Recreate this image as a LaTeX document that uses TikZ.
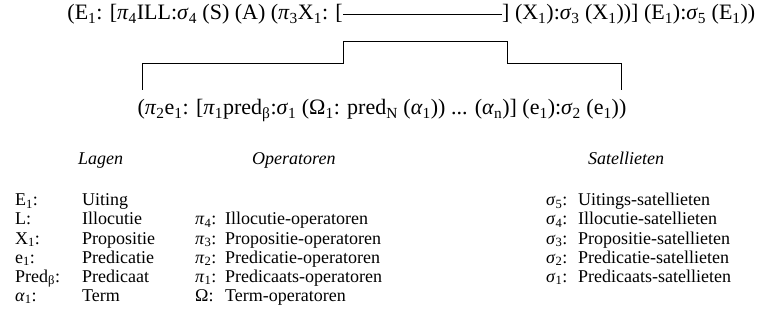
\documentclass[tikz,border=0pt]{standalone}
\usepackage{fontspec}
\setmainfont{Liberation Serif}
\usetikzlibrary{positioning}
\newcommand{\ix}[1]{\textsubscript{#1}}
\newcommand{\gr}[1]{\textit{#1}}
\tikzstyle{formula} = [inner sep=0pt, 
font=\fontsize{22}{22}\selectfont]
\tikzstyle{legend} = [anchor=base west, 
inner sep=0pt, 
font=\fontsize{18}{18}\selectfont]
\tikzstyle{head} = [legend, 
font=\fontsize{18}{18}\selectfont\itshape]
\tikzstyle{link} = [line width=0.8pt]

\begin{document}
\begin{tikzpicture}[x=1pt, y=-1pt]
\useasboundingbox (0,0) rectangle (763,331);

% upper formula with the open slot
\node (topL) [formula, anchor=base east] at (343,20) {(E\ix{1}: [\gr{π}\ix{4}ILL:\gr{σ}\ix{4} (S) (A) (\gr{π}\ix{3}X\ix{1}: [};
\node (topR) [formula, anchor=base west] at (502,20) {] (X\ix{1}):\gr{σ}\ix{3} (X\ix{1}))] (E\ix{1}):\gr{σ}\ix{5} (E\ix{1}))};
\draw [link] (topL.east) -- (topR.west);

% lower formula
\node (bot) [formula, anchor=base] at (382,115) {(\gr{π}\ix{2}e\ix{1}: [\gr{π}\ix{1}pred\ix{β}:\gr{σ}\ix{1} (Ω\ix{1}: pred\ix{N} (\gr{α}\ix{1})) ... (\gr{α}\ix{n})] (e\ix{1}):\gr{σ}\ix{2} (e\ix{1}))};

% bracket linking both
\coordinate (legL) at (142,90);
\coordinate (legR) at (621,90);
\coordinate (stepL) at (343,63);
\coordinate (stepR) at (507,63);
\coordinate (peakL) at (343,41);
\coordinate (peakR) at (507,41);
\draw [link] (legL) |- (stepL) -- (peakL) -- (peakR) -- (stepR) -| (legR);

% legend
\node (hLag) [head] at (78,165) {Lagen};
\node (hOp) [head] at (252,165) {Operatoren};
\node (hSat) [head] at (588,165) {Satellieten};

\node (kE) [legend] at (15,206) {E\ix{1}:};
\node (vE) [legend] at (82,206) {Uiting};
\node (kL) [legend] at (15,225) {L:};
\node (vL) [legend] at (82,225) {Illocutie};
\node (kX) [legend] at (15,244) {X\ix{1}:};
\node (vX) [legend] at (82,244) {Propositie};
\node (ke) [legend] at (15,263) {e\ix{1}:};
\node (ve) [legend] at (82,263) {Predicatie};
\node (kP) [legend] at (15,282) {Pred\ix{β}:};
\node (vP) [legend] at (82,282) {Predicaat};
\node (ka) [legend] at (15,301) {\gr{α}\ix{1}:};
\node (va) [legend] at (82,301) {Term};

\node (kpi4) [legend] at (195,225) {\gr{π}\ix{4}:};
\node (vpi4) [legend] at (225,225) {Illocutie-operatoren};
\node (kpi3) [legend] at (195,244) {\gr{π}\ix{3}:};
\node (vpi3) [legend] at (225,244) {Propositie-operatoren};
\node (kpi2) [legend] at (195,263) {\gr{π}\ix{2}:};
\node (vpi2) [legend] at (225,263) {Predicatie-operatoren};
\node (kpi1) [legend] at (195,282) {\gr{π}\ix{1}:};
\node (vpi1) [legend] at (225,282) {Predicaats-operatoren};
\node (kom) [legend] at (195,301) {Ω:};
\node (vom) [legend] at (225,301) {Term-operatoren};

\node (ks5) [legend] at (546,206) {\gr{σ}\ix{5}:};
\node (vs5) [legend] at (578,206) {Uitings-satellieten};
\node (ks4) [legend] at (546,225) {\gr{σ}\ix{4}:};
\node (vs4) [legend] at (578,225) {Illocutie-satellieten};
\node (ks3) [legend] at (546,244) {\gr{σ}\ix{3}:};
\node (vs3) [legend] at (578,244) {Propositie-satellieten};
\node (ks2) [legend] at (546,263) {\gr{σ}\ix{2}:};
\node (vs2) [legend] at (578,263) {Predicatie-satellieten};
\node (ks1) [legend] at (546,282) {\gr{σ}\ix{1}:};
\node (vs1) [legend] at (578,282) {Predicaats-satellieten};

\end{tikzpicture}
\end{document}
